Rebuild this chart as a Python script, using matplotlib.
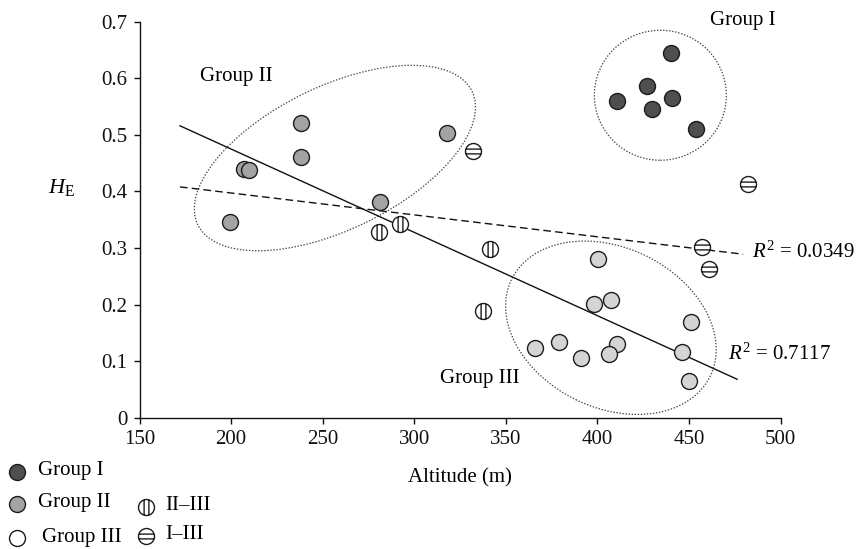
import numpy as np
import matplotlib
matplotlib.use("Agg")
import matplotlib.pyplot as plt
from matplotlib.path import Path
from matplotlib.patches import Ellipse
from matplotlib.transforms import Affine2D, ScaledTranslation
from matplotlib.lines import Line2D

plt.rcParams['font.family'] = ['Liberation Serif', 'DejaVu Serif']
plt.rcParams['mathtext.fontset'] = 'custom'
plt.rcParams['mathtext.rm'] = 'Liberation Serif'
plt.rcParams['mathtext.it'] = 'Liberation Serif:italic'
plt.rcParams['lines.scale_dashes'] = False

# ---------------- data ----------------
g1_alt = [440.0, 427.2, 410.8, 441.0, 429.9, 453.8]
g1_he = [0.644, 0.586, 0.559, 0.566, 0.545, 0.510]

g2_alt = [238.0, 238.0, 207.2, 209.8, 199.4, 317.7, 281.3]
g2_he = [0.521, 0.461, 0.439, 0.437, 0.346, 0.503, 0.382]

g3_alt = [400.4, 397.9, 407.2, 451.0, 365.9, 379.2, 390.8, 410.8, 406.1, 446.0, 450.0]
g3_he = [0.281, 0.201, 0.208, 0.170, 0.123, 0.133, 0.106, 0.130, 0.113, 0.116, 0.065]

g23_alt = [280.9, 292.2, 341.3, 337.7]
g23_he = [0.328, 0.342, 0.298, 0.189]

g13_alt = [331.9, 456.9, 460.9, 482.3]
g13_he = [0.472, 0.301, 0.262, 0.413]

fit_solid_alt = [172.1, 476.3]
fit_solid_he = [0.516, 0.068]
fit_dash_alt = [172.1, 479.6]
fit_dash_he = [0.408, 0.289]

r2_solid = "0.7117"
r2_dash = "0.0349"

x_ticks = [150, 200, 250, 300, 350, 400, 450, 500]
y_ticks = [0, 0.1, 0.2, 0.3, 0.4, 0.5, 0.6, 0.7]
y_ticklabels = ["0", "0.1", "0.2", "0.3", "0.4", "0.5", "0.6", "0.7"]

# group ellipses: centre (data), width/height (pixels), angle (deg)
ell_centres = [(434.4, 0.570), (256.7, 0.459), (407.4, 0.159)]
ell_sizes = [(132, 130), (305, 143), (221, 160)]
ell_angles = [0, 26, -26]

# ---------------- styling ----------------
C1, C2, C3 = '#4f4f4f', '#a3a3a3', '#d4d4d4'
EC = '#1c1c1c'
MS = 11.5
MEW = 1.0
FS = 15

circ = Path.unit_circle()
d = 0.3
h = np.sqrt(1 - d ** 2)
vlines = Path([[-d, -h], [-d, h], [d, -h], [d, h]],
              [Path.MOVETO, Path.LINETO, Path.MOVETO, Path.LINETO])
hlines = Path([[-h, -d], [h, -d], [-h, d], [h, d]],
              [Path.MOVETO, Path.LINETO, Path.MOVETO, Path.LINETO])
m_vert = Path.make_compound_path(circ, vlines)
m_hori = Path.make_compound_path(circ, hlines)

fig = plt.figure(figsize=(8.56, 5.49), dpi=100)
ax = fig.add_axes([139.5 / 856, 1 - 417.7 / 549, 641 / 856, 396 / 549])
ax.set_xlim(150, 500)
ax.set_ylim(0, 0.7)

for s in ['top', 'right']:
    ax.spines[s].set_visible(False)
for s in ['left', 'bottom']:
    ax.spines[s].set_linewidth(1.0)
    ax.spines[s].set_color('#111111')

ax.set_xticks(x_ticks)
ax.set_yticks(y_ticks)
ax.set_yticklabels(y_ticklabels)
ax.tick_params(direction='out', length=4.5, width=1.0, labelsize=FS, colors='#111111')
ax.tick_params(axis='x', pad=4)
ax.tick_params(axis='y', pad=4)

# ellipses
for (cx, cy), (w, hgt), ang in zip(ell_centres, ell_sizes, ell_angles):
    tr = Affine2D().scale(fig.dpi / 100.0) + ScaledTranslation(cx, cy, ax.transData)
    e = Ellipse((0, 0), w, hgt, angle=ang, transform=tr, fill=False,
                edgecolor='#444444', linewidth=0.9, linestyle=(0, (1.0, 1.2)), zorder=1)
    ax.add_artist(e)

# fit lines
ax.plot(fit_solid_alt, fit_solid_he, color='#111111', lw=1.0, zorder=2)
ax.plot(fit_dash_alt, fit_dash_he, color='#111111', lw=1.0, linestyle=(0, (5.5, 3.0)), zorder=2)

# points
kw = dict(linestyle='none', markersize=MS, markeredgecolor=EC, markeredgewidth=MEW, zorder=3)
ax.plot(g1_alt, g1_he, marker='o', markerfacecolor=C1, **kw)
ax.plot(g2_alt, g2_he, marker='o', markerfacecolor=C2, **kw)
ax.plot(g3_alt, g3_he, marker='o', markerfacecolor=C3, **kw)
ax.plot(g23_alt, g23_he, marker=m_vert, markerfacecolor='white', **kw)
ax.plot(g13_alt, g13_he, marker=m_hori, markerfacecolor='white', **kw)

# annotations
ax.text(479.6, 0.703, "Group I", fontsize=FS, ha='center', va='center')
ax.text(203.0, 0.603, "Group II", fontsize=FS, ha='center', va='center')
ax.text(335.9, 0.070, "Group III", fontsize=FS, ha='center', va='center')
ax.text(484.2, 0.293, r"$R^2$ = " + r2_dash, fontsize=FS, ha='left', va='center')
ax.text(471.4, 0.112, r"$R^2$ = " + r2_solid, fontsize=FS, ha='left', va='center')

fig.text(61 / 856, 1 - 188 / 549, r"$H_{\mathrm{E}}$", fontsize=FS + 1, ha='center', va='center')
fig.text(460 / 856, 1 - 478 / 549, "Altitude (m)", fontsize=FS, ha='center', va='center')

# legend (manual, figure coordinates)
leg_items = [
    ((16.7, 471.7), 'o', C1, (38.3, "Group I")),
    ((16.7, 503.5), 'o', C2, (38.3, "Group II")),
    ((16.7, 538.3), 'o', 'white', (41.7, "Group III")),
    ((145.7, 506.7), m_vert, 'white', (165, "II–III")),
    ((145.7, 535.7), m_hori, 'white', (165, "I–III")),
]
for (px, py), mk, fc, (tx, label) in leg_items:
    fig.add_artist(Line2D([px / 856], [1 - py / 549], transform=fig.transFigure,
                          marker=mk, markerfacecolor=fc, markeredgecolor=EC,
                          markeredgewidth=MEW, markersize=MS, linestyle='none'))
    fig.text(tx / 856, 1 - (py - 1) / 549, label, fontsize=FS, ha='left', va='center')

fig.savefig("out.png", dpi=100)
